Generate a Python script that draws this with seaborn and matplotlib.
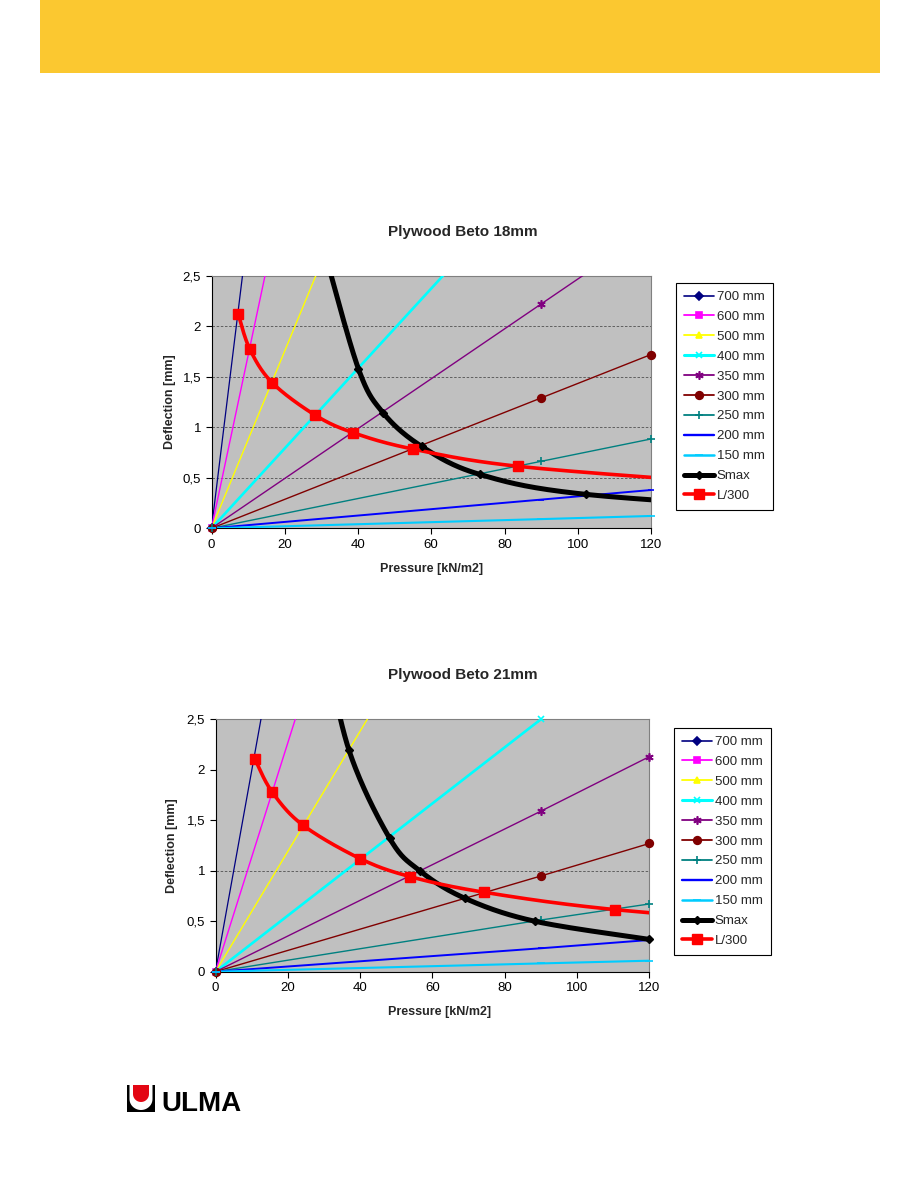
import numpy as np
import pandas as pd
import seaborn as sns
import matplotlib.pyplot as plt
from matplotlib.lines import Line2D
from matplotlib.patches import Rectangle, Polygon

# ---- data ----
spans = ['700 mm', '600 mm', '500 mm', '400 mm', '350 mm', '300 mm',
         '250 mm', '200 mm', '150 mm']
pressure = [0, 90, 120]

# deflection [mm] of each span at 90 and 120 kN/m2
defl90_18 = [26.6, 15.4, 7.90, 3.56, 2.22, 1.29, 0.663, 0.284, 0.091]
defl120_18 = [35.4, 20.5, 10.5, 4.75, 2.96, 1.72, 0.884, 0.379, 0.122]
defl90_21 = [17.9, 10.2, 5.36, 2.50, 1.59, 0.948, 0.512, 0.232, 0.082]
defl120_21 = [23.9, 13.6, 7.14, 3.34, 2.13, 1.27, 0.671, 0.314, 0.109]

# Smax curve (max pressure of each span) and L/300 limit curve
smax_p_18 = [31.0, 40.1, 46.8, 57.4, 73.2, 102.2, 168]
smax_d_18 = [2.72, 1.58, 1.145, 0.81, 0.534, 0.336, 0.17]
lim_p_18 = [7.3, 10.5, 16.6, 28.3, 38.7, 54.9, 83.6, 141]
lim_d_18 = [2.12, 1.77, 1.44, 1.12, 0.946, 0.785, 0.614, 0.447]

smax_p_21 = [29.6, 36.9, 48.2, 56.5, 69.0, 88.3, 120]
smax_d_21 = [3.35, 2.197, 1.32, 1.0, 0.727, 0.5, 0.32]
lim_p_21 = [10.9, 15.7, 24.2, 40.0, 53.8, 74.3, 110.5, 170]
lim_d_21 = [2.105, 1.778, 1.451, 1.12, 0.942, 0.787, 0.615, 0.447]

y_ticks = [0, 0.5, 1, 1.5, 2, 2.5]
y_labels = ['0', '0,5', '1', '1,5', '2', '2,5']
x_ticks = [0, 20, 40, 60, 80, 100, 120]

# ---- styles ----
colors = ['#000080', '#FF00FF', '#FFFF00', '#00FFFF', '#800080', '#800000',
          '#008080', '#0000FF', '#00CCFF']
widths = [0.9, 1.0, 1.0, 1.9, 1.0, 1.0, 1.0, 1.4, 1.5]
markers = ['D', 's', '^', 'x', (6, 2, 0), 'o', '+', '_', '_']
msizes = [4, 5, 5, 5, 6, 5.5, 6, 5, 6]

sns.set_style('ticks')
plt.rcParams['font.family'] = ['Liberation Sans', 'DejaVu Sans']

fig = plt.figure(figsize=(9.18, 11.88), dpi=100)

# page decoration in pixel coordinates
bg = fig.add_axes([0, 0, 1, 1], zorder=-5)
bg.set_xlim(0, 918)
bg.set_ylim(1188, 0)
bg.axis('off')
bg.add_patch(Rectangle((40, 0), 840, 73, color='#FBC830', lw=0))

# ULMA logo
bg.add_patch(Rectangle((127, 1085), 28, 27, color='black', lw=0))
th = np.linspace(np.pi, 0, 30)
u_out = ([(129.5, 1085)] + list(zip(141 + 11.5 * np.cos(th), 1099 + 11 * np.sin(th)))
         + [(152.5, 1085)])
bg.add_patch(Polygon(u_out, closed=True, color='white', lw=0))
red_in = ([(133, 1085)] + list(zip(141 + 8 * np.cos(th), 1094 + 8 * np.sin(th)))
          + [(149, 1085)])
bg.add_patch(Polygon(red_in, closed=True, color='#E30613', lw=0))
bg.text(161, 1111, 'ULMA', fontsize=20, fontweight='bold', color='black', va='baseline')


def smooth(x, y, sx=3.66, sy=101.0, n=40):
    # Excel-style smoothed line (Bezier through the points, screen space)
    pts = np.column_stack([np.asarray(x) * sx, np.asarray(y) * sy])
    out = [pts[0]]
    t = np.linspace(0, 1, n)[1:, None]
    for i in range(len(pts) - 1):
        p0 = pts[max(i - 1, 0)]
        p1 = pts[i]
        p2 = pts[i + 1]
        p3 = pts[min(i + 2, len(pts) - 1)]
        c1 = p1 + (p2 - p0) / 6
        c2 = p2 - (p3 - p1) / 6
        seg = (1 - t) ** 3 * p1 + 3 * (1 - t) ** 2 * t * c1 + 3 * (1 - t) * t ** 2 * c2 + t ** 3 * p2
        out.extend(seg)
    out = np.array(out)
    return out[:, 0] / sx, out[:, 1] / sy


def draw_chart(rect, title, title_y, xlab_xy, ylab_x, d90, d120, smax_p, smax_d,
               lim_p, lim_d, grid, leg_xy):
    ax = fig.add_axes(rect)
    ax.set_facecolor('#C0C0C0')
    for g in grid:
        ax.axhline(g, color='#505050', lw=0.6, ls=(0, (3, 2)), zorder=1)

    rows = []
    for s, a, b in zip(spans, d90, d120):
        rows += [(s, p, d) for p, d in zip(pressure, [0, a, b])]
    df = pd.DataFrame(rows, columns=['Span', 'Pressure', 'Deflection'])

    handles = []
    for i, s in enumerate(spans):
        sub = df[df.Span == s]
        sns.lineplot(data=sub, x='Pressure', y='Deflection', color=colors[i], lw=widths[i],
                     sort=False, estimator=None, ax=ax, zorder=3)
        vis = sub[sub.Deflection <= 2.5]
        ax.plot(vis.Pressure, vis.Deflection, ls='none', marker=markers[i], ms=msizes[i],
                color=colors[i], mec=colors[i], mew=1.2, clip_on=False, zorder=4)
        handles.append(Line2D([], [], color=colors[i], lw=widths[i] + 0.3, marker=markers[i],
                              ms=msizes[i], mec=colors[i], mew=1.2))

    for px, dy, col, lw, mk, ms in [(smax_p, smax_d, 'black', 3.6, 'D', 4),
                                    (lim_p, lim_d, '#FF0000', 2.6, 's', 7.5)]:
        cx, cy = smooth(px, dy)
        sns.lineplot(x=cx, y=cy, color=col, lw=lw, sort=False, estimator=None, ax=ax, zorder=5)
        pts = [(a, b) for a, b in zip(px, dy) if a <= 120 and b <= 2.5]
        ax.plot([a for a, b in pts], [b for a, b in pts], ls='none', marker=mk, ms=ms,
                color=col, mec=col, clip_on=False, zorder=6)
        handles.append(Line2D([], [], color=col, lw=lw, marker=mk, ms=ms, mec=col))

    ax.set_xlim(0, 120)
    ax.set_ylim(0, 2.5)
    ax.set_xticks(x_ticks)
    ax.set_yticks(y_ticks)
    ax.set_yticklabels(y_labels)
    ax.tick_params(labelsize=9.5, length=4, width=0.8, direction='out', colors='black')
    ax.set_xlabel('')
    ax.set_ylabel('')
    for side in ['left', 'bottom']:
        ax.spines[side].set_color('black')
        ax.spines[side].set_linewidth(0.8)
    for side in ['top', 'right']:
        ax.spines[side].set_visible(True)
        ax.spines[side].set_color('#808080')
        ax.spines[side].set_linewidth(0.8)

    leg = ax.legend(handles, spans + ['Smax', 'L/300'], loc='upper left',
                    bbox_to_anchor=(leg_xy[0] / 918, 1 - leg_xy[1] / 1188),
                    bbox_transform=fig.transFigure, fontsize=9.5, frameon=True,
                    fancybox=False, edgecolor='black', framealpha=1, borderaxespad=0,
                    borderpad=0.6, labelspacing=0.58, handlelength=2.3, handletextpad=0.2)
    leg.get_frame().set_linewidth(0.8)

    fig.text(463 / 918, 1 - title_y / 1188, title, ha='center', va='center',
             fontsize=11, fontweight='bold')
    fig.text(xlab_xy[0] / 918, 1 - xlab_xy[1] / 1188, 'Pressure [kN/m2]', ha='center',
             va='center', fontsize=9, fontweight='bold')
    yc = rect[1] + rect[3] / 2
    fig.text(ylab_x / 918, yc, 'Deflection [mm]', ha='center', va='center', rotation=90,
             fontsize=9, fontweight='bold')
    return ax


draw_chart([211.5 / 918, 1 - 528.3 / 1188, 439.5 / 918, 252.6 / 1188],
           'Plywood Beto 18mm', 232, (432, 569), 170,
           defl90_18, defl120_18, smax_p_18, smax_d_18, lim_p_18, lim_d_18,
           [0.5, 1, 1.5, 2], (676, 283))

draw_chart([215.5 / 918, 1 - 971.7 / 1188, 433.8 / 918, 252.4 / 1188],
           'Plywood Beto 21mm', 675, (440, 1012), 172,
           defl90_21, defl120_21, smax_p_21, smax_d_21, lim_p_21, lim_d_21,
           [1], (674, 728))

fig.savefig('out.png', dpi=100)
